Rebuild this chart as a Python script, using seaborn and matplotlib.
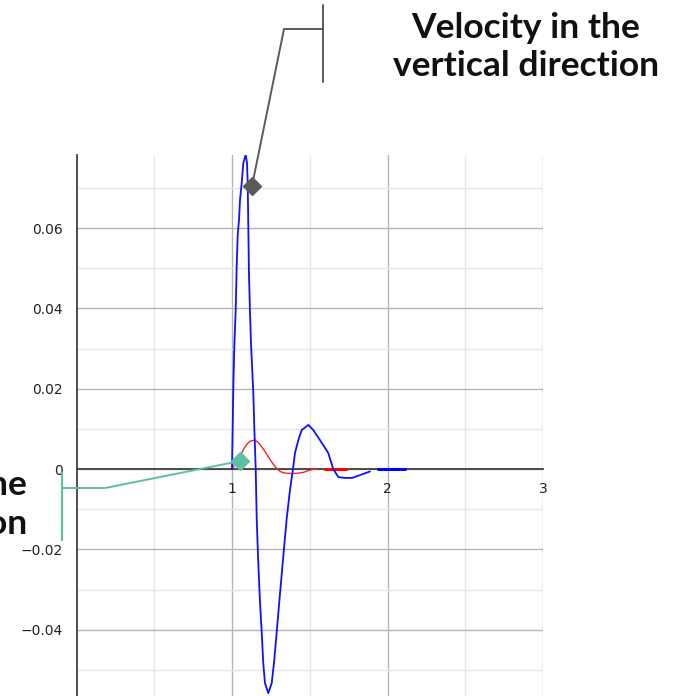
import matplotlib
matplotlib.use("Agg")
import matplotlib.pyplot as plt
import pandas as pd
import seaborn as sns
from matplotlib.lines import Line2D
from matplotlib.ticker import FixedLocator, FuncFormatter

# ---- data ----
time_blue = [1.0, 1.0084, 1.0148, 1.0238, 1.030, 1.0367, 1.045, 1.0514, 1.0624, 1.0727,
             1.088, 1.0965, 1.101, 1.109, 1.1158, 1.122, 1.137, 1.1434, 1.1524, 1.1588,
             1.169, 1.180, 1.191, 1.201, 1.212, 1.2334, 1.2553, 1.270, 1.2875, 1.304,
             1.326, 1.352, 1.373, 1.392, 1.405, 1.4264, 1.448, 1.491, 1.523, 1.566,
             1.619, 1.651, 1.684, 1.727, 1.772, 1.823, 1.887]
vel_vertical = [0.0, 0.0202, 0.0304, 0.0396, 0.0503, 0.0583, 0.0620, 0.0670, 0.0712, 0.0762,
                0.0783, 0.0762, 0.0712, 0.0488, 0.0389, 0.0314, 0.0189, 0.0105, 0.0, -0.0122,
                -0.0234, -0.0331, -0.0406, -0.0483, -0.0533, -0.0558, -0.0533, -0.0483, -0.0406, -0.0331,
                -0.0234, -0.0122, -0.0052, 0.0, 0.0040, 0.0072, 0.0097, 0.0110, 0.0097, 0.0072,
                0.0040, 0.0, -0.0020, -0.0022, -0.0022, -0.0015, -0.0006]
time_blue_tail = [1.94, 2.11]
vel_vertical_tail = [0.0, 0.0]

time_red = [1.0, 1.02, 1.04, 1.06, 1.08, 1.10, 1.12, 1.148, 1.17, 1.19,
            1.21, 1.233, 1.255, 1.277, 1.30, 1.32, 1.345, 1.373, 1.40, 1.43,
            1.46, 1.49, 1.52, 1.55]
vel_horizontal = [0.0, 0.0012, 0.0025, 0.0039, 0.0053, 0.0064, 0.0070, 0.0072, 0.0066, 0.0056,
                  0.0045, 0.0031, 0.0018, 0.0006, -0.0003, -0.0008, -0.0010, -0.0011, -0.0011, -0.0010,
                  -0.0008, -0.0004, -0.0001, 0.0]
time_red_tail = [1.598, 1.735]
vel_horizontal_tail = [0.0, 0.0]

x_major = [1, 2, 3]
x_minor = [0.5, 1.5, 2.5]
y_major = [-0.04, -0.02, 0.0, 0.02, 0.04, 0.06]
y_minor = [-0.05, -0.03, -0.01, 0.01, 0.03, 0.05, 0.07]

label_vertical = "Velocity in the\nvertical direction"
label_horizontal = "Velocity in the\nhorizontal direction"
marker_vertical = (1.1286, 0.0705)
marker_horizontal = (1.0514, 0.0020)

# ---- figure ----
sns.set_style("white")
plt.rcParams["font.family"] = ["DejaVu Sans"]

W, H = 681, 696
fig = plt.figure(figsize=(W / 100, H / 100), dpi=100)
fx = lambda px: px / W
fy = lambda py: 1 - py / H

ax = fig.add_axes([fx(76.5), 0, (543 - 76.5) / W, (696 - 155) / H])
ax.set_xlim(0, 3)
ax.set_ylim(-0.0565, 0.0782)

df_b = pd.DataFrame({"t": time_blue, "v": vel_vertical})
df_bt = pd.DataFrame({"t": time_blue_tail, "v": vel_vertical_tail})
df_r = pd.DataFrame({"t": time_red, "v": vel_horizontal})
df_rt = pd.DataFrame({"t": time_red_tail, "v": vel_horizontal_tail})

sns.lineplot(data=df_r, x="t", y="v", ax=ax, color="#ff2020", lw=1.0, sort=False, estimator=None, zorder=4)
sns.lineplot(data=df_rt, x="t", y="v", ax=ax, color="#ff0000", lw=2.2, sort=False, estimator=None, zorder=4)
sns.lineplot(data=df_b, x="t", y="v", ax=ax, color="#1010ff", lw=1.3, sort=False, estimator=None, zorder=5)
sns.lineplot(data=df_bt, x="t", y="v", ax=ax, color="#0000ff", lw=2.2, sort=False, estimator=None, zorder=5)

ax.set_xlabel("")
ax.set_ylabel("")

ax.xaxis.set_major_locator(FixedLocator(x_major))
ax.xaxis.set_minor_locator(FixedLocator(x_minor))
ax.yaxis.set_major_locator(FixedLocator(y_major))
ax.yaxis.set_minor_locator(FixedLocator(y_minor))
ax.yaxis.set_major_formatter(FuncFormatter(lambda v, p: "0" if abs(v) < 1e-9 else f"{v:.2f}".replace("-", "\u2212")))
ax.xaxis.set_major_formatter(FuncFormatter(lambda v, p: f"{v:g}"))

ax.grid(which="major", color="#b4b4b4", lw=1.0)
ax.grid(which="minor", color="#e6e6e6", lw=1.0)
ax.set_axisbelow(True)

for s in ["top", "right"]:
    ax.spines[s].set_visible(False)
ax.spines["bottom"].set_position(("data", 0))
ax.spines["left"].set_position(("data", 0))
for s in ["bottom", "left"]:
    ax.spines[s].set_color("#404040")
    ax.spines[s].set_linewidth(1.3)
    ax.spines[s].set_zorder(3)

ax.tick_params(axis="y", which="both", direction="out", length=4, width=1, color="#404040",
               pad=6, labelsize=10, labelcolor="#222222")
ax.tick_params(axis="x", which="major", direction="out", length=4, width=1, color="#404040",
               pad=5, labelsize=10, labelcolor="#222222")
ax.tick_params(axis="x", which="minor", direction="inout", length=5, width=1, color="#404040")

# ---- annotations ----
to_fig = lambda xy: fig.transFigure.inverted().transform(ax.transData.transform(xy))

gray = "#5a5a5a"
mv = to_fig(marker_vertical)
fig.add_artist(Line2D([mv[0], fx(284), fx(323)], [mv[1], fy(29), fy(29)], color=gray, lw=1.4))
fig.add_artist(Line2D([fx(323), fx(323)], [fy(5), fy(82)], color=gray, lw=1.4))
ax.plot([marker_vertical[0]], [marker_vertical[1]], marker="D", ms=9, color=gray, zorder=6, clip_on=False)

teal = "#5fbfa3"
mh = to_fig(marker_horizontal)
fig.add_artist(Line2D([mh[0], fx(105), fx(62)], [mh[1], fy(488), fy(488)], color=teal, lw=1.4))
fig.add_artist(Line2D([fx(62), fx(62)], [fy(473), fy(540)], color=teal, lw=1.6))
ax.plot([marker_horizontal[0]], [marker_horizontal[1]], marker="D", ms=9, color=teal, zorder=6, clip_on=False)

fig.text(fx(526), fy(12), label_vertical, ha="center", va="top", fontsize=25.5,
         fontweight="bold", family="Lato", linespacing=1.25, color="#111111")
fig.text(fx(27), fy(469), label_horizontal, ha="right", va="top", multialignment="right",
         fontsize=25.5, fontweight="bold", family="Lato", linespacing=1.25, color="#111111")

fig.savefig("out.png", dpi=100)
